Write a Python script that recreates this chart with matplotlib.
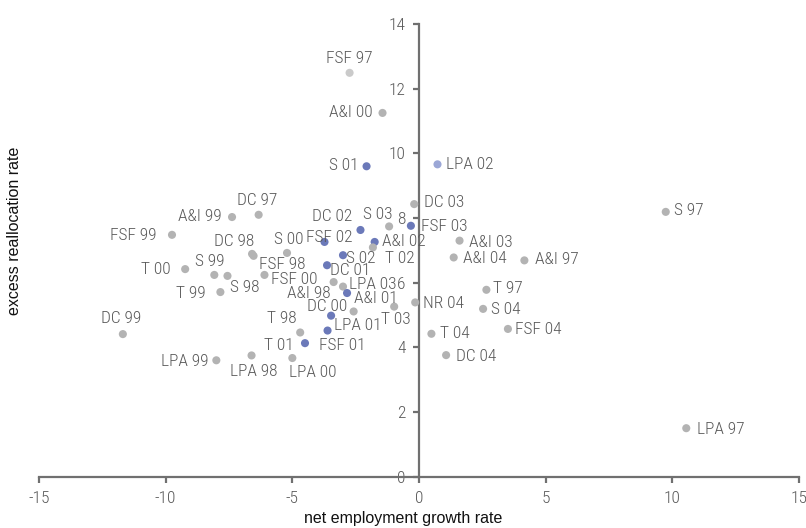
"""
Scatter of excess reallocation vs net employment growth, by sector and year.
"""
import matplotlib
matplotlib.use("Agg")
import matplotlib.pyplot as plt

labels = ["FSF 97", "A&I 00", "S 01", "LPA 02", "DC 03", "S 03", "FSF 03", "DC 02",
          "FSF 02", "A&I 02", "T 02", "S 02", "DC 01", "A&I 98", "LPA 03", "A&I 01",
          "DC 00", "LPA 01", "FSF 01", "T 98", "T 01", "T 03", "NR 04", "LPA 00",
          "LPA 98", "LPA 99", "DC 99", "T 99", "S 98", "S 99", "T 00", "FSF 99",
          "A&I 99", "DC 97", "DC 98", "FSF 98", "S 00", "FSF 00", "A&I 03", "A&I 04",
          "A&I 97", "T 97", "S 04", "FSF 04", "T 04", "DC 04", "S 97", "LPA 97"]
growth = [-2.74, -1.44, -2.07, 0.73, -0.19, -1.18, -0.32, -2.31,
          -3.73, -1.75, -1.82, -3.00, -3.63, -3.37, -3.00, -2.84,
          -2.58, -3.47, -3.61, -4.69, -4.50, -0.98, -0.15, -5.00,
          -6.61, -8.00, -11.69, -7.84, -7.56, -8.08, -9.23, -9.75,
          -7.38, -6.33, -6.59, -6.53, -5.21, -6.10, 1.60, 1.37,
          4.16, 2.66, 2.53, 3.51, 0.49, 1.07, 9.74, 10.55]
realloc = [12.49, 11.25, 9.60, 9.66, 8.43, 7.74, 7.76, 7.63,
           7.26, 7.26, 7.09, 6.85, 6.54, 6.02, 5.88, 5.68,
           5.11, 4.98, 4.52, 4.46, 4.13, 5.26, 5.39, 3.67,
           3.75, 3.60, 4.41, 5.71, 6.21, 6.24, 6.42, 7.48,
           8.03, 8.10, 6.89, 6.83, 6.92, 6.24, 7.30, 6.78,
           6.69, 5.78, 5.19, 4.57, 4.42, 3.76, 8.19, 1.50]

blue = ["S 01", "FSF 03", "DC 02", "FSF 02", "A&I 02", "S 02", "DC 01", "A&I 01",
        "LPA 01", "FSF 01", "T 01"]
light_blue = ["LPA 02"]
light_grey = ["FSF 97"]

# label placement: (alignment, dx px, dy px downwards)
place = {
    "FSF 97": ("center", -0.6, -14.3), "A&I 00": ("right", -9.6, 0), "S 01": ("right", -8, -0.7),
    "LPA 02": ("left", 8.4, 0), "DC 03": ("left", 10.3, -2), "S 03": ("right", 3, -11.7),
    "FSF 03": ("left", 10.3, 0.7), "DC 02": ("right", -8.6, -13.6), "FSF 02": ("center", 5.2, -4),
    "A&I 02": ("left", 7.4, -0.6), "T 02": ("left", 12.3, 10.6), "S 02": ("left", 3.3, 3),
    "DC 01": ("left", 3.3, 5.7), "A&I 98": ("right", -3.3, 11), "LPA 03": ("left", 5.6, -2.4),
    "A&I 01": ("left", 6.6, 5), "DC 00": ("right", -6.6, -5), "LPA 01": ("left", 2.6, 9.7),
    "FSF 01": ("left", -9, 15), "T 01": ("right", -11.4, 2.4), "T 98": ("right", -3.3, -13.7),
    "T 03": ("center", 1.5, 12.6), "NR 04": ("left", 7.7, 0.6), "LPA 00": ("left", -3.7, 14.4),
    "LPA 98": ("center", 2.4, 16), "LPA 99": ("right", -7.7, 1.4), "DC 99": ("center", -1.5, -16),
    "T 99": ("right", -15, 1), "S 98": ("left", 2.7, 11.3), "S 99": ("center", -4.7, -13.3),
    "T 00": ("right", -15, 0.7), "FSF 99": ("right", -16, 1), "A&I 99": ("right", -10.7, -0.6),
    "DC 97": ("center", -1.1, -14.3), "DC 98": ("right", 2.3, -12.3), "FSF 98": ("left", 5, 9),
    "S 00": ("center", 1.3, -13.3), "FSF 00": ("left", 6.4, 4.3), "A&I 03": ("left", 9, 1.7),
    "A&I 04": ("left", 9.4, 0.6), "A&I 97": ("left", 10.3, -0.7), "T 97": ("left", 6.7, -1),
    "S 04": ("left", 8, 0.3), "FSF 04": ("left", 7.3, 0.3), "T 04": ("left", 8.3, -0.7),
    "DC 04": ("left", 10.3, 1.4), "S 97": ("left", 8.7, -1.6), "LPA 97": ("left", 10.7, 1.7),
}

plt.rcParams['axes.unicode_minus'] = False
narrow = ['Roboto Condensed', 'DejaVu Sans']
txt_col = '#595959'
axis_col = '#707070'

def colour(lab):
    if lab in blue:
        return '#6b79b9'
    if lab in light_blue:
        return '#9ba7d6'
    if lab in light_grey:
        return '#cacaca'
    return '#b3b3b3'

fig = plt.figure(figsize=(8.06, 5.28), dpi=100)
ax = fig.add_axes([39 / 806, 1 - 476.7 / 528, 760 / 806, (476.7 - 24) / 528])

ax.scatter(growth, realloc, s=34, c=[colour(l) for l in labels], edgecolors='none', zorder=3)

for lab, x, y in zip(labels, growth, realloc):
    ha, dx, dy = place[lab]
    ax.annotate(lab, (x, y), xytext=(dx, -dy), textcoords='offset pixels',
                ha=ha, va='center', fontsize=12.5, color=txt_col, family=narrow,
                fontweight='light', zorder=4)

ax.set_xlim(-15, 15)
ax.set_ylim(0, 14)
ax.spines['left'].set_position(('data', 0))
ax.spines['bottom'].set_position(('data', 0))
ax.spines['top'].set_visible(False)
ax.spines['right'].set_visible(False)
for s in ('left', 'bottom'):
    ax.spines[s].set_color(axis_col)
    ax.spines[s].set_linewidth(1.6)

ax.set_xticks(range(-15, 16, 5))
ax.set_yticks(range(0, 15, 2))
ax.tick_params(direction='out', length=4.5, width=1.6, color=axis_col,
               labelcolor=txt_col, labelsize=12.5)
ax.tick_params(axis='y', pad=5)
ax.tick_params(axis='x', pad=6)
for t in ax.get_xticklabels() + ax.get_yticklabels():
    t.set_family(narrow)
    t.set_fontweight('light')

fig.text(403 / 806, 1 - 519 / 528, 'net employment growth rate', ha='center', va='center',
         fontsize=11.5, family='Liberation Sans', color='#111111')
fig.text(15 / 806, 1 - 231 / 528, 'excess reallocation rate', ha='center', va='center',
         rotation=90, fontsize=11.5, family='Liberation Sans', color='#111111')

plt.savefig('out.png', dpi=100)
